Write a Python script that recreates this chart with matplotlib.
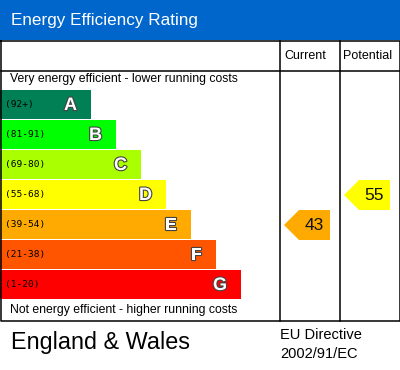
import matplotlib.pyplot as plt
import matplotlib.patheffects as pe
from matplotlib.patches import Rectangle, Polygon

bands = ['A', 'B', 'C', 'D', 'E', 'F', 'G']
ranges = ['(92+)', '(81-91)', '(69-80)', '(55-68)', '(39-54)', '(21-38)', '(1-20)']
lows = [92, 81, 69, 55, 39, 21, 1]
colors = ['#008054', '#00ff00', '#aaff00', '#ffff00', '#ffaa00', '#ff5500', '#ff0000']
current = 43
potential = 55

plt.rcParams['font.family'] = ['Liberation Sans', 'DejaVu Sans']

fig = plt.figure(figsize=(4, 3.7), dpi=100)
ax = fig.add_axes([0, 0, 1, 1])
ax.set_xlim(0, 400)
ax.set_ylim(370, 0)
ax.axis('off')

# header
ax.add_patch(Rectangle((0, 0), 400, 40, color='#0066cc', lw=0))
ax.text(11, 20, 'Energy Efficiency Rating', color='white', fontsize=12.3, va='center')

# table frame
lw = 1.1
ax.plot([0.5, 399.5, 399.5, 0.5, 0.5], [40.5, 40.5, 320.5, 320.5, 40.5], color='black', lw=lw)
ax.plot([0.5, 399.5], [70.5, 70.5], color='black', lw=lw)
for x in [279.5, 339.5]:
    ax.plot([x, x], [40.5, 320.5], color='black', lw=lw)
ax.text(305, 56, 'Current', fontsize=9, ha='center', va='center')
ax.text(368, 56, 'Potential', fontsize=9, ha='center', va='center')

ax.text(10, 79, 'Very energy efficient - lower running costs', fontsize=8.8, va='center')
ax.text(10, 310, 'Not energy efficient - higher running costs', fontsize=8.8, va='center')

top = 90
pitch = 30
h = 29
for i, (b, r, c) in enumerate(zip(bands, ranges, colors)):
    y = top + i * pitch
    w = 91 + 25 * i
    ax.add_patch(Rectangle((0, y), w, h, color=c, lw=0))
    ax.text(5, y + h / 2, r, fontsize=6.8, family='DejaVu Sans Mono', va='center', color='black')
    ax.text(w - 14, y + h / 2 + 1, b, fontsize=13, fontweight='bold', color='white',
            ha='right', va='center',
            path_effects=[pe.withStroke(linewidth=1.6, foreground='#444444')])


def band_of(v):
    for i, lo in enumerate(lows):
        if v >= lo:
            return i
    return len(lows) - 1


def arrow(v, x0, x1):
    i = band_of(v)
    y = top + i * pitch
    pts = [(x0, y + h / 2 + 0.5), (x0 + 15, y), (x1, y), (x1, y + h + 1), (x0 + 15, y + h + 1)]
    ax.add_patch(Polygon(pts, closed=True, color=colors[i], lw=0))
    ax.text((x0 + 15 + x1) / 2, y + h / 2 + 1, str(v), fontsize=12.5, ha='center', va='center',
            color='#111111')


arrow(current, 284, 330)
arrow(potential, 344, 390)

# footer
ax.text(11, 342, 'England & Wales', fontsize=16.8, va='center')
ax.text(280, 335, 'EU Directive', fontsize=10.5, va='center')
ax.text(280, 354, '2002/91/EC', fontsize=10.5, va='center')

fig.savefig('out.png', dpi=100)
